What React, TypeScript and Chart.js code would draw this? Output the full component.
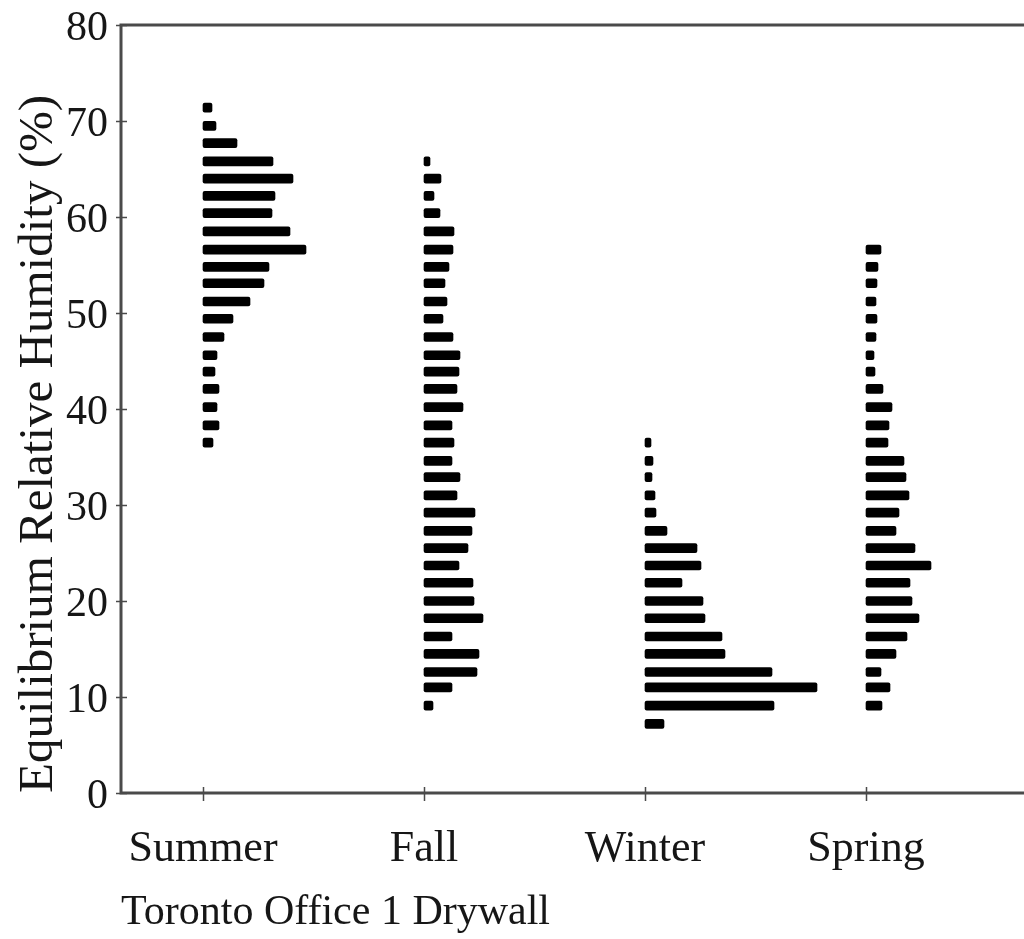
import React, { useEffect, useRef } from "react";
import { Chart, registerables } from "chart.js";

Chart.register(...registerables);

// ---- data -------------------------------------------------------------
const seasons = ["Summer", "Fall", "Winter", "Spring"];
// x-axis value at which each season's histogram starts (frequency units)
const seasonPositions = [0, 221, 442, 663];

// centres of the equilibrium-RH bins (%), shared by all seasons
const binCenters = [
  71.4, 69.5, 67.7, 65.8, 64.0, 62.2, 60.4, 58.5, 56.6, 54.8, 53.1, 51.2,
  49.4, 47.5, 45.6, 43.9, 42.1, 40.2, 38.3, 36.5, 34.6, 32.9, 31.0, 29.2,
  27.3, 25.5, 23.7, 21.9, 20.0, 18.2, 16.3, 14.5, 12.6, 11.0, 9.1, 7.2,
];

// index of the first bin each season's frequency list refers to
const seasonFirstBin = [0, 3, 19, 8];

// frequency (bar length) per bin, top bin first
const summerFreq = [9, 13, 34, 70, 90, 72, 69, 87, 103, 66, 61, 47, 30, 21, 14, 12, 16, 14, 16, 10];
const fallFreq = [
  6, 17, 10, 16, 30, 29, 25, 21, 23, 19, 29, 36, 35, 33, 39, 28, 30, 28, 36, 33,
  51, 48, 44, 35, 49, 50, 59, 28, 55, 53, 28, 9,
];
const winterFreq = [6, 8, 7, 10, 11, 22, 52, 56, 37, 58, 60, 77, 80, 127, 172, 129, 19];
const springFreq = [
  15, 12, 11, 10, 11, 10, 8, 9, 17, 26, 23, 22, 38, 40, 43, 33, 30, 49, 65, 44,
  46, 53, 41, 30, 15, 24, 16,
];

const yTickValues = [0, 10, 20, 30, 40, 50, 60, 70, 80];
const xTitle = "Toronto Office 1 Drywall";
const yTitle = "Equilibrium Relative Humidity (%)";

// ---- chart ------------------------------------------------------------
const seasonFreqs = [summerFreq, fallFreq, winterFreq, springFreq];
const FONT = "'Liberation Serif', 'Times New Roman', serif";
const TEXT = "#161616";
const AXIS = "#4a4a4a";

const framePlugin = {
  id: "frame",
  afterDraw(chart: any) {
    const { ctx, chartArea, scales } = chart;
    const { left, top, bottom } = chartArea;
    const right = chart.width;
    ctx.save();
    ctx.strokeStyle = AXIS;
    ctx.lineWidth = 3;
    ctx.beginPath();
    ctx.moveTo(right, top);
    ctx.lineTo(left, top);
    ctx.lineTo(left, bottom);
    ctx.lineTo(right, bottom);
    ctx.stroke();
    ctx.lineWidth = 1.5;
    ctx.beginPath();
    scales.y.ticks.forEach((t: any) => {
      const y = Math.round(scales.y.getPixelForValue(t.value)) + 0.5;
      ctx.moveTo(left - 5, y);
      ctx.lineTo(left + 6, y);
    });
    scales.x.ticks.forEach((t: any) => {
      const x = Math.round(scales.x.getPixelForValue(t.value)) + 0.5;
      ctx.moveTo(x, bottom - 6);
      ctx.lineTo(x, bottom + 8);
    });
    ctx.stroke();
    ctx.restore();
  },
};

export default function App() {
  const canvasRef = useRef<HTMLCanvasElement | null>(null);

  useEffect(() => {
    if (!canvasRef.current) return;
    const datasets = seasons.map((name, s) => {
      const base = seasonPositions[s];
      const first = seasonFirstBin[s];
      const data = seasonFreqs[s].map((f, i) => ({
        x: [base, base + f],
        y: binCenters[first + i],
      }));
      return {
        label: name,
        data,
        backgroundColor: "#000000",
        borderWidth: 0,
        borderRadius: 2,
        borderSkipped: false,
        barThickness: 9,
        grouped: false,
      };
    });

    const chart = new Chart(canvasRef.current, {
      type: "bar",
      data: { datasets: datasets as any },
      plugins: [framePlugin],
      options: {
        indexAxis: "y",
        animation: false,
        responsive: false,
        maintainAspectRatio: false,
        layout: { padding: { top: 25, left: 0, right: 0, bottom: 0 } },
        plugins: {
          legend: { display: false },
          tooltip: { enabled: false },
        },
        scales: {
          x: {
            type: "linear",
            position: "bottom",
            min: -82,
            max: 821,
            offset: false,
            grid: { display: false, drawTicks: false, offset: false },
            border: { display: false },
            afterBuildTicks: (scale: any) => {
              scale.ticks = seasonPositions.map((v) => ({ value: v }));
            },
            afterFit: (scale: any) => {
              scale.height = 146;
            },
            ticks: {
              autoSkip: false,
              maxRotation: 0,
              padding: 30,
              color: TEXT,
              font: { family: FONT, size: 44 },
              callback: (_v: any, i: number) => seasons[i],
            },
            title: {
              display: true,
              text: xTitle,
              align: "start",
              color: TEXT,
              font: { family: FONT, size: 42 },
              padding: { top: 0, bottom: 1 },
            },
          },
          y: {
            type: "linear",
            min: 0,
            max: 80,
            offset: false,
            grid: { display: false, drawTicks: false, offset: false },
            border: { display: false },
            afterBuildTicks: (scale: any) => {
              scale.ticks = yTickValues.map((v) => ({ value: v }));
            },
            afterFit: (scale: any) => {
              scale.width = 121;
              scale.paddingTop = 0;
              scale.paddingBottom = 0;
            },
            ticks: {
              padding: 13,
              labelOffset: 4,
              color: TEXT,
              font: { family: FONT, size: 42 },
            },
            title: {
              display: true,
              text: yTitle,
              align: "start",
              color: TEXT,
              font: { family: FONT, size: 49 },
              padding: { top: 10, bottom: 0 },
            },
          },
        },
      } as any,
    });
    return () => chart.destroy();
  }, []);

  return (
    <div
      style={{
        position: "absolute",
        left: 0,
        top: 0,
        width: 1024,
        height: 939,
        background: "#ffffff",
      }}
    >
      <canvas ref={canvasRef} width={1024} height={939} />
    </div>
  );
}
